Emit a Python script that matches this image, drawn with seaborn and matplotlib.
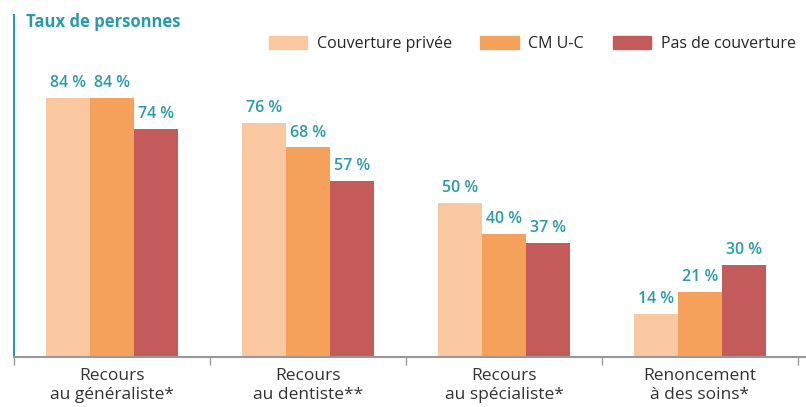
import numpy as np
import pandas as pd
import seaborn as sns
import matplotlib.pyplot as plt
from matplotlib.patches import Patch

categories = ['Recours\nau généraliste*', 'Recours\nau dentiste**',
              'Recours\nau spécialiste*', 'Renoncement\nà des soins*']
groups = ['Couverture privée', 'CM U-C', 'Pas de couverture']
prive = [84, 76, 50, 14]
cmuc = [84, 68, 40, 21]
sans_couv = [74, 57, 37, 30]

colors = ['#F9C8A0', '#F5A15C', '#C35B5B']
teal = '#2A9BA6'

# long format for seaborn
df = pd.DataFrame({
    'cat': categories * 3,
    'groupe': [g for g in groups for _ in categories],
    'val': prive + cmuc + sans_couv,
})

sns.set_style('white')
plt.rcParams['font.family'] = ['Open Sans', 'DejaVu Sans']

fig = plt.figure(figsize=(8.06, 4.07), dpi=100)
ax = fig.add_axes([14/806, 1 - 357/407, (798 - 14)/806, (357 - 15)/407])

sns.barplot(data=df, x='cat', y='val', hue='groupe', hue_order=groups,
            palette=colors, width=0.67, ax=ax, legend=False, saturation=1,
            linewidth=0, edgecolor='none')

# value labels above bars
for cont in ax.containers:
    ax.bar_label(cont, labels=[f'{v:.0f} %' for v in cont.datavalues],
                 padding=5, color=teal, fontsize=11.5, fontweight='semibold')

ax.set_ylim(0, 111)
ax.set_xlim(-0.5, 3.5)
ax.set_xlabel('')
ax.set_ylabel('')
ax.set_yticks([])

# spines
for s in ['top', 'right']:
    ax.spines[s].set_visible(False)
ax.spines['left'].set_color(teal)
ax.spines['left'].set_linewidth(1.5)
ax.spines['bottom'].set_color('#999999')
ax.spines['bottom'].set_linewidth(1.5)
ax.spines['bottom'].set_bounds(-0.5, 3.55)

# tick marks on the group boundaries
ax.set_xticks(np.arange(-0.5, 4, 1), minor=True)
ax.tick_params(axis='x', which='minor', bottom=True, length=6, color='#999999',
               width=1, direction='out')
ax.tick_params(axis='x', which='major', length=0, labelsize=12.5,
               labelcolor='#333333', pad=8)

# legend
handles = [Patch(color=c, label=g) for c, g in zip(colors, groups)]
fig.legend(handles=handles, loc='center right', bbox_to_anchor=(1.005, 1 - 44/407), ncol=3,
           frameon=False, fontsize=11.5, handlelength=2.4, handleheight=0.9,
           columnspacing=1.8, handletextpad=0.6)

fig.text(26/806, 1 - 22/407, 'Taux de personnes', color=teal, fontsize=12,
         fontweight='bold', va='center', ha='left')

fig.savefig('out.png', dpi=100)
